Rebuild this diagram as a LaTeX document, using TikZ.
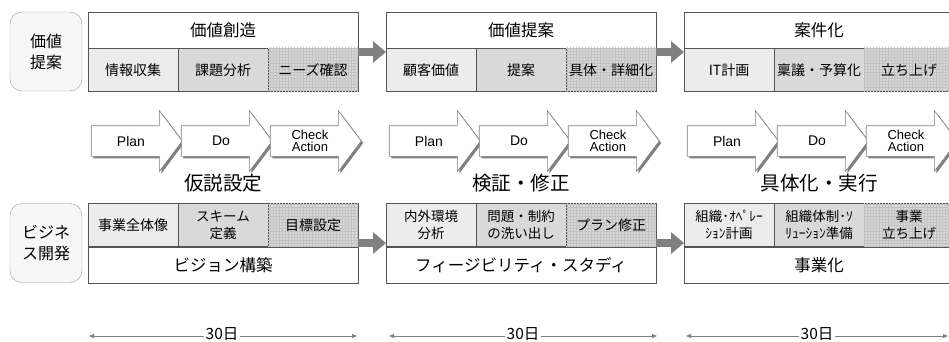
\documentclass[tikz,border=0pt]{standalone}
\usepackage{fontspec}
\setmainfont{Liberation Sans}
\newfontfamily\jp{Noto Sans CJK JP}
\usetikzlibrary{shapes.arrows,shadows,arrows.meta,patterns}

\definecolor{boxline}{HTML}{555555}
\definecolor{sideline}{HTML}{9A9A9A}
\definecolor{sidefill}{HTML}{F7F7F7}
\definecolor{fillA}{HTML}{ECECEC}
\definecolor{fillB}{HTML}{D9D9D9}
\definecolor{fillC}{HTML}{D8D8D8}
\definecolor{gridC}{HTML}{C2C2C2}
\definecolor{flowgray}{HTML}{808080}

% fixed body for the PDCA arrows
\newcommand{\pdcatext}[1]{\parbox[c][30pt][c]{62pt}{\centering #1}}

\begin{document}
\begin{tikzpicture}[x=1pt,y=-1pt,
    box/.style={draw=boxline,line width=0.8pt,anchor=north west,inner sep=0pt,outer sep=0pt,align=center},
    head/.style={box,fill=white,minimum width=270pt,minimum height=36pt,font=\jp\fontsize{16.5}{18}\selectfont},
    cell/.style={box,minimum width=90pt,minimum height=43.5pt,font=\jp\fontsize{14}{17}\selectfont},
    gridcell/.style={cell,fill=fillC,postaction={pattern=grid,pattern color=gridC}},
    two/.style={font=\jp\fontsize{13.5}{17}\selectfont},
    side/.style={draw=sideline,fill=sidefill,rounded corners=12pt,minimum width=72pt,minimum height=79pt,
        inner sep=0pt,align=center,font=\jp\fontsize{16}{21}\selectfont},
    pdca/.style={single arrow,draw=flowgray,line width=0.6pt,fill=white,minimum height=91pt,
        single arrow head extend=15pt,single arrow tip angle=106,inner sep=0pt,
        font=\fontsize{14}{13.5}\selectfont,
        drop shadow={shadow xshift=2pt,shadow yshift=-2pt,fill=flowgray,opacity=1}},
    stage/.style={font=\jp\fontsize{19.5}{22}\selectfont},
    flow/.style={draw=flowgray,line width=8pt,-{Triangle[length=13pt,width=21pt]}},
    span/.style={draw=flowgray,line width=0.8pt,{Triangle[length=5pt,width=4pt]}-{Triangle[length=5pt,width=4pt]}},
    days/.style={fill=white,inner sep=2pt,font=\jp\fontsize{15.5}{18}\selectfont}]

    \useasboundingbox (0,0) rectangle (949,342);
    \clip (0,0) rectangle (949,342);

    % left labels
    \node[side] (valprop) at (46,51.5) {価値\\提案};
    \node[side] (bizdev) at (46,243) {ビジネ\\ス開発};

    % upper row
    \node[head] (vcreate) at (88,12) {価値創造};
    \node[cell,fill=fillA] (vc1) at (88,48) {情報収集};
    \node[cell,fill=fillB] (vc2) at (178,48) {課題分析};
    \node[gridcell] (vc3) at (268,48) {ニーズ確認};

    \node[head] (vpropose) at (386,12) {価値提案};
    \node[cell,fill=fillA] (vp1) at (386,48) {顧客価値};
    \node[cell,fill=fillB] (vp2) at (476,48) {提案};
    \node[gridcell] (vp3) at (566,48) {具体・詳細化};

    \node[head] (project) at (684,12) {案件化};
    \node[cell,fill=fillA] (pj1) at (684,48) {IT計画};
    \node[cell,fill=fillB] (pj2) at (774,48) {稟議・予算化};
    \node[gridcell] (pj3) at (864,48) {立ち上げ};

    \draw[flow] ([yshift=-4pt]vcreate.south east) -- ([yshift=-4pt]vpropose.south west);
    \draw[flow] ([yshift=-4pt]vpropose.south east) -- ([yshift=-4pt]project.south west);

    % PDCA
    \node[pdca] (pa1) at (131,141) {\pdcatext{Plan}};
    \node[pdca] (pa2) at (221,141) {\pdcatext{Do}};
    \node[pdca] (pa3) at (310,141) {\pdcatext{\fontsize{13}{12.5}\selectfont Check\\Action}};
    \node[pdca] (pb1) at (429,141) {\pdcatext{Plan}};
    \node[pdca] (pb2) at (519,141) {\pdcatext{Do}};
    \node[pdca] (pb3) at (608,141) {\pdcatext{\fontsize{13}{12.5}\selectfont Check\\Action}};
    \node[pdca] (pc1) at (727,141) {\pdcatext{Plan}};
    \node[pdca] (pc2) at (817,141) {\pdcatext{Do}};
    \node[pdca] (pc3) at (906,141) {\pdcatext{\fontsize{13}{12.5}\selectfont Check\\Action}};

    \node[stage] (hypo) at (223,183) {仮説設定};
    \node[stage] (verify) at (521,183) {検証・修正};
    \node[stage] (execute) at (819,183) {具体化・実行};

    % lower row
    \node[cell,fill=fillA] (bv1) at (88,203) {事業全体像};
    \node[cell,fill=fillB,two] (bv2) at (178,203) {スキーム\\定義};
    \node[gridcell] (bv3) at (268,203) {目標設定};
    \node[head] (vision) at (88,247) {ビジョン構築};

    \node[cell,fill=fillA,two] (fs1) at (386,203) {内外環境\\分析};
    \node[cell,fill=fillB,two] (fs2) at (476,203) {問題・制約\\の洗い出し};
    \node[gridcell] (fs3) at (566,203) {プラン修正};
    \node[head] (feasible) at (386,247) {フィージビリティ・スタディ};

    \node[cell,fill=fillA,two] (bz1) at (684,203) {組織･ｵﾍﾟﾚｰ\\ｼｮﾝ計画};
    \node[cell,fill=fillB,two] (bz2) at (774,203) {組織体制･ｿ\\ﾘｭｰｼｮﾝ準備};
    \node[gridcell,two] (bz3) at (864,203) {事業\\立ち上げ};
    \node[head] (business) at (684,247) {事業化};

    \draw[flow] ([yshift=4pt]vision.north east) -- ([yshift=4pt]feasible.north west);
    \draw[flow] ([yshift=4pt]feasible.north east) -- ([yshift=4pt]business.north west);

    % 30 days
    \coordinate (da0) at (89,336);
    \coordinate (da1) at (357,336);
    \coordinate (db0) at (389,336);
    \coordinate (db1) at (657,336);
    \coordinate (dc0) at (686,336);
    \coordinate (dc1) at (948,336);
    \draw[span] (da0) -- (da1);
    \draw[span] (db0) -- (db1);
    \draw[span] (dc0) -- (dc1);
    \node[days] (da) at (222,334) {30日};
    \node[days] (db) at (523,334) {30日};
    \node[days] (dc) at (817,334) {30日};
\end{tikzpicture}
\end{document}
